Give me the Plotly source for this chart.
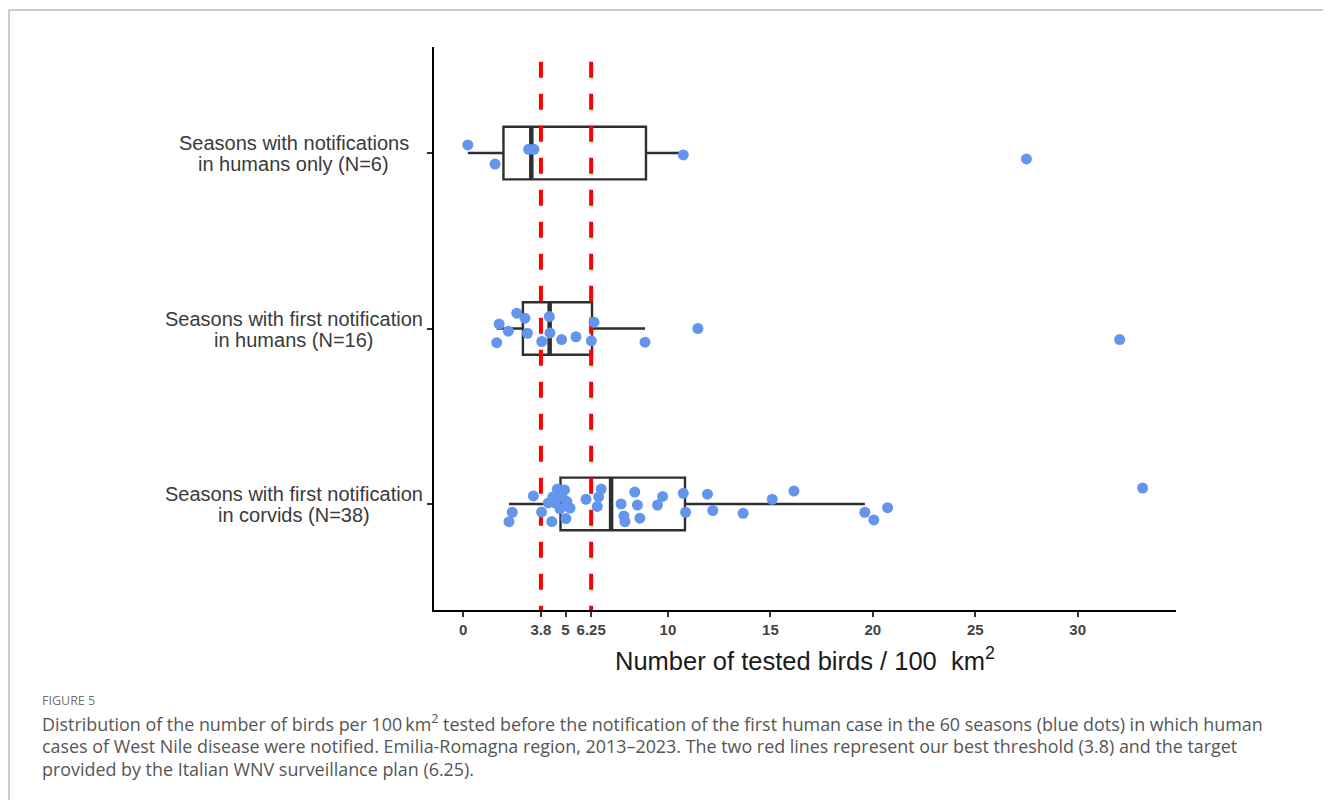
import numpy as np
import plotly.graph_objects as go

# ---------------- data ----------------
group_labels = [
    ("Seasons with first notification", "in corvids (N=38)"),
    ("Seasons with first notification", "in humans (N=16)"),
    ("Seasons with notifications", "in humans only (N=6)"),
]
group_pos = [1, 2, 3]

corvids_x = [2.24, 2.40, 3.43, 3.83, 4.33, 4.16, 4.38, 4.60, 4.95, 5.07,
             4.73, 5.02, 4.49, 4.83, 5.22, 6.00, 6.74, 6.62, 6.55, 7.71,
             8.38, 8.51, 7.85, 7.90, 8.63, 9.49, 9.74, 10.75, 10.86, 11.93,
             12.19, 13.67, 15.09, 16.15, 19.61, 20.05, 20.72, 33.17]
corvids_jit = [-0.101, -0.047, 0.046, -0.046, -0.100, 0.006, 0.040, 0.085, 0.080, 0.014,
               -0.028, -0.083, 0.006, 0.040, -0.023, 0.027, 0.085, 0.040, -0.014, 0.000,
               0.068, -0.006, -0.068, -0.101, -0.081, -0.006, 0.043, 0.061, -0.047, 0.056,
               -0.037, -0.053, 0.027, 0.074, -0.047, -0.091, -0.021, 0.091]

humans_first_x = [2.62, 3.02, 1.76, 2.21, 3.14, 1.64, 4.21, 4.24, 3.84, 4.81,
                  5.51, 6.39, 6.26, 8.88, 11.46, 32.05]
humans_first_jit = [0.087, 0.059, 0.025, -0.015, -0.027, -0.081, 0.068, -0.025, -0.074, -0.063,
                    -0.047, 0.036, -0.070, -0.078, 0.000, -0.063]

humans_only_x = [0.23, 1.56, 3.20, 3.46, 10.75, 27.50]
humans_only_jit = [0.046, -0.063, 0.021, 0.021, -0.011, -0.034]

thresholds = [3.8, 6.25]
x_tickvals = [0, 3.8, 5, 6.25, 10, 15, 20, 25, 30]
x_ticktext = ["0", "3.8", "5", "6.25", "10", "15", "20", "25", "30"]

x_range = [-1.42, 34.8]
y_range = [0.396, 3.604]
box_width = 0.3

caption_head = "FIGURE 5"
caption_lines = [
    "Distribution of the number of birds per 100\u2009km<sup>2</sup> tested before the notification of the first human case in the 60 seasons (blue dots) in which human",
    "cases of West Nile disease were notified. Emilia-Romagna region, 2013\u20132023. The two red lines represent our best threshold (3.8) and the target",
    "provided by the Italian WNV surveillance plan (6.25).",
]

groups = [(corvids_x, corvids_jit), (humans_first_x, humans_first_jit), (humans_only_x, humans_only_jit)]

# ---------------- styles ----------------
BOX_COL = "#2e2e2e"
DOT_COL = "#6495ED"
SANS = "Liberation Sans, Arial, sans-serif"
CAP_FONT = "Open Sans, Noto Sans, sans-serif"

OFF = 8  # page body margin
W, H = 1331 - OFF, 800 - OFF
ML = 434 - OFF
MT = 47 - OFF
MR = W - (1176 - OFF)
MB = H - (610 - OFF)
PW, PH = W - ML - MR, H - MT - MB


def px_x(p):
    return (p - OFF - ML) / PW


def px_y(p):
    return (H - MB - (p - OFF)) / PH


fig = go.Figure()

# boxes (stats computed from the data, ggplot style: type-7 quartiles, 1.5 IQR whiskers)
for pos, (xs, _) in zip(group_pos, groups):
    arr = np.array(xs)
    q1, med, q3 = np.percentile(arr, [25, 50, 75])
    iqr = q3 - q1
    lf = arr[arr >= q1 - 1.5 * iqr].min()
    uf = arr[arr <= q3 + 1.5 * iqr].max()
    fig.add_trace(go.Box(
        y=[pos], q1=[q1], median=[med], q3=[q3], lowerfence=[lf], upperfence=[uf],
        orientation="h", width=box_width, whiskerwidth=0, boxpoints=False,
        line=dict(color=BOX_COL, width=2.4), fillcolor="rgba(0,0,0,0)",
        hoverinfo="skip", showlegend=False))
    fig.add_trace(go.Scatter(
        x=[med, med], y=[pos - box_width / 2, pos + box_width / 2], mode="lines",
        line=dict(color=BOX_COL, width=4.5), hoverinfo="skip", showlegend=False))

# threshold lines
for t in thresholds:
    fig.add_trace(go.Scatter(
        x=[t, t], y=[3.52, y_range[0]], mode="lines",
        line=dict(color="#FF0000", width=4, dash="16px,16px"),
        hoverinfo="skip", showlegend=False))

# jittered points
for pos, (xs, jit) in zip(group_pos, groups):
    fig.add_trace(go.Scatter(
        x=xs, y=[pos + j for j in jit], mode="markers",
        marker=dict(color=DOT_COL, size=11, line=dict(width=0)),
        hoverinfo="skip", showlegend=False))

annotations = []
# y category labels, two centred lines each
for pos, (l1, l2) in zip(group_pos, group_labels):
    for txt, shift in ((l1, 10), (l2, -11)):
        annotations.append(dict(
            x=px_x(293.5), xref="paper", y=pos, yref="y", yshift=shift,
            text=txt, showarrow=False, xanchor="center", yanchor="middle",
            font=dict(family=SANS, size=20, color="#3a3a3a")))

# x axis title
annotations.append(dict(
    x=0.5, xref="paper", y=px_y(659), yref="paper",
    text="Number of tested birds / 100  km<sup>2</sup>", showarrow=False,
    xanchor="center", yanchor="middle",
    font=dict(family=SANS, size=25.5, color="#1a1a1a")))

# caption
annotations.append(dict(
    x=px_x(40), xref="paper", y=px_y(700), yref="paper", text=caption_head,
    showarrow=False, xanchor="left", yanchor="middle",
    font=dict(family=CAP_FONT, size=12.5, color="#707070")))
for i, line in enumerate(caption_lines):
    annotations.append(dict(
        x=px_x(40), xref="paper", y=px_y(723 + 23 * i), yref="paper", text=line,
        showarrow=False, xanchor="left", yanchor="middle", align="left",
        font=dict(family=CAP_FONT, size=17.9, color="#555555")))

shapes = [
    dict(type="line", xref="paper", yref="paper", x0=px_x(9), x1=px_x(1340),
         y0=px_y(10), y1=px_y(10), line=dict(color="#bdbdbd", width=1.5)),
    dict(type="line", xref="paper", yref="paper", x0=px_x(9), x1=px_x(9),
         y0=px_y(10), y1=px_y(810), line=dict(color="#bdbdbd", width=1.5)),
]

fig.update_layout(
    width=W, height=H,
    margin=dict(l=ML, r=MR, t=MT, b=MB, pad=0),
    paper_bgcolor="white", plot_bgcolor="white",
    annotations=annotations, shapes=shapes,
    xaxis=dict(range=x_range, tickvals=x_tickvals, ticktext=x_ticktext,
               showgrid=False, zeroline=False, showline=True, linecolor="black", linewidth=2,
               ticks="outside", ticklen=5, tickwidth=1.5, tickcolor="#333333",
               tickfont=dict(family=SANS, size=15, color="#444444", weight="bold")),
    yaxis=dict(range=y_range, tickvals=group_pos, showticklabels=False,
               showgrid=False, zeroline=False, showline=True, linecolor="black", linewidth=2,
               ticks="outside", ticklen=5, tickwidth=1.5, tickcolor="#333333"),
)

fig.write_html("out.html")
